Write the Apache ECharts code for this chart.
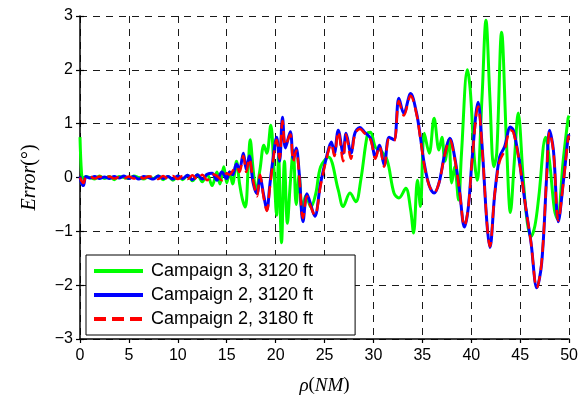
<!DOCTYPE html>
<html>
<head>
<meta charset="utf-8">
<script src="https://cdn.jsdelivr.net/npm/echarts@6/dist/echarts.min.js"></script>
<style>
  html, body { margin: 0; padding: 0; background: #fff; }
  #chart { width: 581px; height: 403px; }
</style>
</head>
<body>
<div id="chart"></div>
<script>
// Range rho (NM) and bearing error (deg) for each flight campaign
const xTicks = [0, 5, 10, 15, 20, 25, 30, 35, 40, 45, 50];
const yTicks = [-3, -2, -1, 0, 1, 2, 3];

const seriesNames = ['Campaign 3, 3120 ft', 'Campaign 2, 3120 ft', 'Campaign 2, 3180 ft'];

// Campaign 3, 3120 ft
const c3Rho = [0, 0.15, 0.3, 0.6, 1, 1.5, 2, 2.5, 3, 3.5, 4, 4.5, 5, 5.5, 6, 6.5, 7, 7.5, 8, 8.5, 9, 9.5, 10, 10.5, 11, 11.5, 12, 12.5, 13, 13.5, 14, 14.3, 14.7, 15,
  15.3, 15.6, 16, 16.3, 16.6, 16.9, 17.2, 17.4, 17.7, 18, 18.4, 18.8, 19.1, 19.5, 19.8, 20.1, 20.3, 20.6, 20.9, 21.2, 21.5, 21.8, 22.1, 22.4, 22.7, 23.1, 23.6, 24.1, 24.6, 25.4,
  26.4, 26.9, 27.6, 28.2, 28.7, 29.4, 29.7, 30.2, 30.7, 31.4, 32.1, 32.6, 33.3, 33.8, 34.1, 34.5, 34.8, 35.2, 35.7, 36.2, 36.7, 37.0, 37.3, 37.7, 38.0, 38.3, 38.7, 39.0,
  39.6, 39.9, 40.3, 40.6, 41.1, 41.5, 41.9, 42.3, 42.6, 43.1, 43.6, 44.0, 44.4, 44.8, 45.3, 45.7, 46.1, 46.5, 46.9, 47.6, 48.0, 48.5, 48.8, 49.4, 49.9, 50];
const c3Err = [0.75, 0.1, -0.02, 0.02, 0.0, -0.03, 0.03, -0.02, 0.02, -0.04, 0.02, 0.0, -0.02, 0.03, 0.0, -0.03, 0.02, -0.02, 0.03, -0.04, 0.02, -0.05, 0.03, -0.04, 0.04, -0.06, 0.05, -0.08, 0.06, -0.15, 0.1, -0.12, 0.2, -0.1,
  0.1, -0.12, 0.3, -0.1, -0.4, -0.55, 0.2, 0.7, 0.15, -0.25, 0.15, 0.6, 0.45, 0.97, 0.25, -0.7, 0.4, -1.21, 0.3, -0.85, -0.1, 0.5, -0.5, 0.05, -0.6, -0.33, -0.55, -0.3, 0.2, 0.38,
  -0.23, -0.54, -0.29, -0.45, -0.05, 0.82, 0.84, 0.56, 0.51, 0.32, -0.29, -0.38, -0.2, -0.6, -1.03, -0.05, -0.54, 0.82, 0.45, 1.1, 0.51, 0.75, 0.3, 0.7, -0.1, 0.2, -0.42, 0.45,
  2.0, 1.62, 0.38, -0.05, 1.5, 2.92, 1.5, 0.2, 0.45, 2.7, 0.64, -0.65, 0.3, 1.2, 0.0, -0.8, -1.1, -0.9, -0.36, 0.75, 0.3, -0.6, -0.77, 0.32, 1.1, 1.15];

// Campaign 2 shares the same range samples for both altitudes
const c2Rho = [0, 0.15, 0.35, 0.6, 1, 1.5, 2, 2.5, 3, 3.5, 4, 4.5, 5, 5.5, 6, 6.5, 7, 7.5, 8, 8.5, 9, 9.5, 10, 10.5, 11, 11.5, 12, 12.5, 13, 13.5, 14, 14.5, 15,
  15.3, 15.6, 16, 16.3, 16.7, 17, 17.3, 17.7, 18.1, 18.4, 18.8, 19.1, 19.4, 19.7, 20.1, 20.4, 20.7, 21.0, 21.5, 21.8, 22.1, 22.4, 22.8, 23.2, 23.5, 24.0, 24.6, 25.2, 25.7, 26.0,
  26.4, 26.9, 27.2, 27.7, 28.1, 28.6, 29.1, 29.7, 30.2, 30.6, 31.1, 31.6, 32.1, 32.6, 33.1, 33.8, 34.4, 34.8, 35.2, 35.7, 36.2, 36.7, 37.3, 37.8, 38.3, 38.8, 39.3, 39.7,
  40.1, 40.7, 41.1, 41.6, 41.9, 42.4, 42.9, 43.4, 44.0, 44.3, 44.9, 45.6, 46.1, 46.7, 47.2, 47.7, 48.0, 48.4, 48.9, 49.4, 49.9, 50];
// Campaign 2, 3120 ft
const c2LowErr = [0.02, -0.1, -0.15, 0.02, -0.01, 0.02, -0.02, 0.01, -0.02, 0.02, -0.01, 0.03, -0.02, 0.02, -0.03, 0.02, 0.0, -0.03, 0.03, -0.02, 0.02, -0.03, 0.03, -0.02, 0.04, -0.04, 0.05, -0.03, 0.06, 0.08, -0.05, 0.1, -0.02,
  0.1, 0.05, 0.25, 0.15, 0.45, 0.15, 0.4, -0.1, -0.3, 0.0, -0.35, -0.6, -0.15, 0.3, 0.75, 0.3, 1.12, 0.55, 0.85, 0.35, 0.55, 0.1, -0.82, -0.3, -0.45, -0.72, -0.1, 0.38, 0.66, 0.45,
  0.88, 0.45, 0.82, 0.45, 0.82, 0.93, 0.84, 0.73, 0.38, 0.6, 0.23, 0.75, 0.7, 1.47, 1.19, 1.56, 1.2, 0.75, 0.25, -0.15, -0.29, -0.1, 0.45, 0.73, 0.38, -0.24, -0.92, -0.55,
  0.38, 1.4, 0.6, -0.85, -1.3, -0.3, 0.38, 0.57, 0.94, 0.88, 0.32, -0.6, -1.2, -2.05, -1.58, 0.0, 0.88, 0.5, -0.82, -0.1, 0.75, 0.8];
// Campaign 2, 3180 ft
const c2HighErr = [0.0, -0.06, -0.1, 0.01, 0.02, -0.02, 0.02, -0.01, 0.02, -0.02, 0.01, -0.02, 0.02, -0.02, 0.03, -0.02, 0.02, 0.02, -0.03, 0.03, -0.02, 0.03, -0.03, 0.03, -0.03, 0.04, -0.04, 0.05, -0.05, 0.06, 0.03, -0.05, 0.08,
  0.05, 0.12, 0.2, 0.1, 0.4, 0.1, 0.35, -0.05, -0.35, 0.05, -0.4, -0.62, -0.2, 0.25, 0.7, 0.35, 1.05, 0.6, 0.8, 0.3, 0.5, 0.05, -0.75, -0.35, -0.5, -0.7, -0.15, 0.35, 0.62, 0.4,
  0.85, 0.3, 0.8, 0.35, 0.8, 0.9, 0.82, 0.7, 0.35, 0.58, 0.2, 0.72, 0.68, 1.42, 1.15, 1.52, 1.18, 0.72, 0.22, -0.15, -0.28, -0.1, 0.43, 0.7, 0.35, -0.25, -0.9, -0.55,
  0.36, 1.32, 0.58, -0.85, -1.28, -0.3, 0.3, 0.5, 0.88, 0.84, 0.3, -0.6, -1.2, -2.05, -1.56, 0.0, 0.84, 0.48, -0.8, -0.12, 0.72, 0.78];

function pairs(xs, ys) { return xs.map((x, i) => [x, ys[i]]); }

const FONT = '"Liberation Sans", Arial, Helvetica, sans-serif';
const SERIF = '"Liberation Serif", "DejaVu Serif", serif';
const minus = v => (v < 0 ? '\u2212' + Math.abs(v) : String(v));

const chart = echarts.init(document.getElementById('chart'), null, { renderer: 'canvas' });

const gridDash = { color: '#1a1a1a', width: 1, type: [7, 6] };

chart.setOption({
  animation: false,
  backgroundColor: '#ffffff',
  grid: { left: 80, right: 8, top: 16, bottom: 64, containLabel: false },
  xAxis: [
    {
      type: 'value', min: xTicks[0], max: xTicks[xTicks.length - 1], interval: 5,
      axisLine: { show: true, onZero: false, lineStyle: { color: '#000', width: 1.5 } },
      axisTick: { show: true, length: 4, lineStyle: { color: '#000', width: 1.2 } },
      axisLabel: { color: '#000', fontFamily: FONT, fontSize: 16, margin: 9 },
      splitLine: { show: true, lineStyle: gridDash },
      name: '{r|\u03C1}{u|(}{r|NM}{u|)}', nameLocation: 'middle', nameGap: 37,
      nameTextStyle: {
        rich: {
          r: { fontFamily: SERIF, fontStyle: 'italic', fontSize: 19, color: '#000' },
          u: { fontFamily: SERIF, fontSize: 19, color: '#000' }
        }
      }
    },
    {
      type: 'value', min: xTicks[0], max: xTicks[xTicks.length - 1], interval: 5, position: 'bottom',
      axisLine: { show: false }, axisLabel: { show: false }, splitLine: { show: false },
      axisTick: { show: true, inside: true, length: 4, lineStyle: { color: '#000', width: 1.2 } }
    }
  ],
  yAxis: [
    {
      type: 'value', min: yTicks[0], max: yTicks[yTicks.length - 1], interval: 1,
      axisLine: { show: true, onZero: false, lineStyle: { color: '#000', width: 1.5 } },
      axisTick: { show: true, length: 4, lineStyle: { color: '#000', width: 1.2 } },
      axisLabel: { color: '#000', fontFamily: FONT, fontSize: 16, margin: 7, formatter: minus },
      splitLine: { show: true, lineStyle: gridDash },
      name: '{i|Error}{u|(\u00B0)}', nameLocation: 'middle', nameGap: 40, nameRotate: 90,
      nameTextStyle: {
        rich: {
          i: { fontFamily: SERIF, fontStyle: 'italic', fontSize: 20, color: '#000' },
          u: { fontFamily: SERIF, fontSize: 20, color: '#000' }
        }
      }
    },
    {
      type: 'value', min: yTicks[0], max: yTicks[yTicks.length - 1], interval: 1, position: 'left',
      axisLine: { show: false }, axisLabel: { show: false }, splitLine: { show: false },
      axisTick: { show: true, inside: true, length: 4, lineStyle: { color: '#000', width: 1.2 } }
    }
  ],
  legend: {
    orient: 'vertical', left: 86, top: 255,
    padding: [7, 42, 7, 6],
    itemWidth: 49, itemHeight: 14, itemGap: 6,
    itemStyle: { opacity: 0 },
    lineStyle: { width: 4 },
    backgroundColor: '#ffffff', borderColor: '#000', borderWidth: 1, borderRadius: 0,
    textStyle: { color: '#000', fontFamily: FONT, fontSize: 18, lineHeight: 18, padding: [0, 0, 0, 3] },
    data: seriesNames
  },
  series: [
    {
      name: seriesNames[0], type: 'line', data: pairs(c3Rho, c3Err),
      showSymbol: false, symbol: 'none', smooth: 0.35,
      lineStyle: { color: '#00ff00', width: 3 }, itemStyle: { color: '#00ff00' }, z: 2
    },
    {
      name: seriesNames[1], type: 'line', data: pairs(c2Rho, c2LowErr),
      showSymbol: false, symbol: 'none', smooth: 0.35,
      lineStyle: { color: '#0000ff', width: 3 }, itemStyle: { color: '#0000ff' }, z: 3
    },
    {
      name: seriesNames[2], type: 'line', data: pairs(c2Rho, c2HighErr),
      showSymbol: false, symbol: 'none', smooth: 0.35,
      lineStyle: { color: '#ff0000', width: 2.5, type: [12, 6] }, itemStyle: { color: '#ff0000' }, z: 4
    }
  ]
});
</script>
</body>
</html>
